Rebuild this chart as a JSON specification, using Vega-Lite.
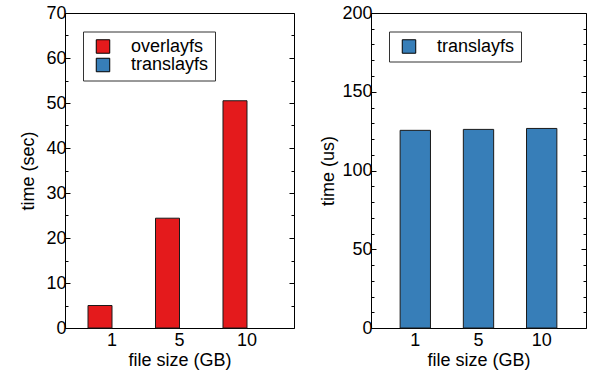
{
  "$schema": "https://vega.github.io/schema/vega-lite/v6.json",
  "padding": {"left": 19, "top": 3, "right": 0, "bottom": 0},
  "config": {
    "font": "Liberation Sans",
    "view": {"stroke": "black", "strokeWidth": 1},
    "axis": {"labelFontSize": 18, "titleFontSize": 18, "labelColor": "black", "titleColor": "black", "titleFontWeight": "normal", "grid": false, "domain": false, "tickColor": "black"},
    "legend": {"labelFontSize": 18, "labelColor": "black"}
  },
  "datasets": {
    "sec": [
      {"size": 1, "fs": "overlayfs", "time": 5.0},
      {"size": 5, "fs": "overlayfs", "time": 24.4},
      {"size": 10, "fs": "overlayfs", "time": 50.5},
      {"size": 1, "fs": "translayfs", "time": 0.000125},
      {"size": 5, "fs": "translayfs", "time": 0.000126},
      {"size": 10, "fs": "translayfs", "time": 0.000127}
    ],
    "us": [
      {"size": 1, "fs": "translayfs", "time": 125.5},
      {"size": 5, "fs": "translayfs", "time": 126.1},
      {"size": 10, "fs": "translayfs", "time": 126.7}
    ]
  },
  "hconcat": [
    {
      "width": 229,
      "height": 315,
      "data": {"name": "sec"},
      "encoding": {
        "x": {"field": "size", "type": "ordinal", "title": "file size (GB)",
          "scale": {"paddingInner": 0.289, "paddingOuter": 0.341},
          "axis": {"labelAngle": 0, "ticks": false, "labelPadding": 3, "titlePadding": 2}}
      },
      "resolve": {"axis": {"y": "independent"}},
      "layer": [
        {
          "mark": {"type": "bar", "stroke": "#1a1a1a", "strokeWidth": 1},
          "encoding": {
            "xOffset": {"field": "fs", "type": "nominal", "scale": {"paddingInner": 0, "paddingOuter": 0}},
            "y": {"field": "time", "type": "quantitative", "scale": {"domain": [0, 70], "nice": false},
              "axis": {"orient": "left", "values": [0, 5, 10, 15, 20, 25, 30, 35, 40, 45, 50, 55, 60, 65, 70],
                "labelExpr": "datum.value % 10 === 0 ? datum.label : ''",
                "tickSize": {"condition": {"test": "datum.value % 10 !== 0", "value": -3}, "value": -5},
                "labelPadding": 4, "title": "time (sec)", "titlePadding": 8}},
            "strokeOpacity": {"condition": {"test": "datum.time < 0.01", "value": 0}, "value": 1},
            "color": {"field": "fs", "type": "nominal",
              "scale": {"domain": ["overlayfs", "translayfs"], "range": ["#e41a1c", "#377eb8"]},
              "legend": {"orient": "none", "legendX": 18, "legendY": 18.5, "title": null, "direction": "vertical",
                "strokeColor": "#333", "fillColor": "white", "padding": 6, "symbolType": "square", "symbolSize": 182,
                "symbolStrokeColor": "black", "symbolStrokeWidth": 1, "symbolOffset": 5, "symbolOpacity": 1, "labelOffset": 19, "rowPadding": 0.5,
                "labelExpr": "datum.label + '\u00a0\u00a0'"}}
          }
        },
        {
          "mark": {"type": "bar", "opacity": 0},
          "encoding": {
            "y": {"field": "time", "type": "quantitative", "scale": {"domain": [0, 70], "nice": false},
              "axis": {"orient": "right", "values": [0, 5, 10, 15, 20, 25, 30, 35, 40, 45, 50, 55, 60, 65, 70], "labels": false,
                "tickSize": {"condition": {"test": "datum.value % 10 !== 0", "value": -3}, "value": -5}, "title": null}}
          }
        }
      ]
    },
    {
      "width": 215,
      "height": 315,
      "data": {"name": "us"},
      "encoding": {
        "x": {"field": "size", "type": "ordinal", "title": "file size (GB)",
          "scale": {"paddingInner": 0.52, "paddingOuter": 0.461},
          "axis": {"labelAngle": 0, "ticks": false, "labelPadding": 3, "titlePadding": 2}}
      },
      "resolve": {"axis": {"y": "independent"}},
      "layer": [
        {
          "mark": {"type": "bar", "stroke": "#1a1a1a", "strokeWidth": 1},
          "encoding": {
            "y": {"field": "time", "type": "quantitative", "scale": {"domain": [0, 200], "nice": false},
              "axis": {"orient": "left", "values": [0, 10, 20, 30, 40, 50, 60, 70, 80, 90, 100, 110, 120, 130, 140, 150, 160, 170, 180, 190, 200],
                "labelExpr": "datum.value % 50 === 0 ? datum.label : ''",
                "tickSize": {"condition": {"test": "datum.value % 50 !== 0", "value": -3}, "value": -5},
                "labelPadding": 4, "title": "time (us)", "titlePadding": 4}},
            "color": {"field": "fs", "type": "nominal",
              "scale": {"domain": ["translayfs"], "range": ["#377eb8"]},
              "legend": {"orient": "none", "legendX": 18, "legendY": 18.5, "title": null, "direction": "vertical",
                "strokeColor": "#333", "fillColor": "white", "padding": 6, "symbolType": "square", "symbolSize": 182,
                "symbolStrokeColor": "black", "symbolStrokeWidth": 1, "symbolOffset": 5, "symbolOpacity": 1, "labelOffset": 19, "rowPadding": 0.5,
                "labelExpr": "datum.label + '\u00a0\u00a0'"}}
          }
        },
        {
          "mark": {"type": "bar", "opacity": 0},
          "encoding": {
            "y": {"field": "time", "type": "quantitative", "scale": {"domain": [0, 200], "nice": false},
              "axis": {"orient": "right", "values": [0, 10, 20, 30, 40, 50, 60, 70, 80, 90, 100, 110, 120, 130, 140, 150, 160, 170, 180, 190, 200], "labels": false,
                "tickSize": {"condition": {"test": "datum.value % 50 !== 0", "value": -3}, "value": -5}, "title": null}}
          }
        }
      ]
    }
  ],
  "spacing": 24,
  "resolve": {"scale": {"color": "independent", "x": "independent", "y": "independent"}, "legend": {"color": "independent"}}
}
